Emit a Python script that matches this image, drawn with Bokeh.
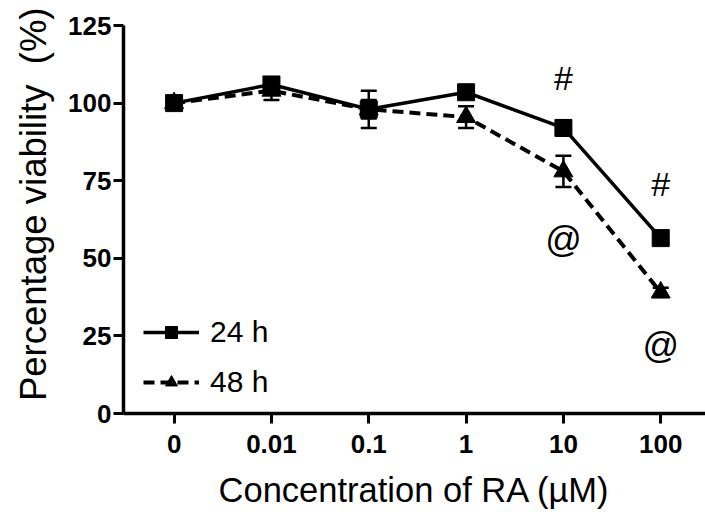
from bokeh.plotting import figure
from bokeh.models import (ColumnDataSource, Whisker, TeeHead, Legend, LegendItem,
                          FixedTicker, Range1d)
from bokeh.core.properties import value
from bokeh.embed import file_html
from bokeh.resources import INLINE

# ---- data ----
concentrations = ["0", "0.01", "0.1", "1", "10", "100"]
viability_24h = [100, 106, 98, 103.5, 92, 56.5]
error_24h = [0.8, 2, 6, 1.5, 2.5, 1.5]
viability_48h = [100, 104, 98, 95.5, 78, 39]
error_48h = [0.8, 3, 3, 3.5, 5, 1.5]

# significance annotations
hash_labels = ["#", "#"]
hash_idx = [4, 5]
hash_y = [108, 74]
at_labels = ["@", "@"]
at_idx = [4, 5]
at_y = [56, 22]

FONT = "Liberation Sans"
xs = list(range(len(concentrations)))

p = figure(width=705, height=521, output_backend="svg", toolbar_location=None,
           x_range=Range1d(-0.52, 5.46), y_range=Range1d(0, 125),
           min_border_left=123, min_border_right=0, min_border_top=25,
           min_border_bottom=108)
p.grid.visible = False
p.outline_line_color = None
p.background_fill_color = "white"
p.border_fill_color = "white"

src24 = ColumnDataSource(dict(x=xs, y=viability_24h,
                              lo=[v - e for v, e in zip(viability_24h, error_24h)],
                              hi=[v + e for v, e in zip(viability_24h, error_24h)]))
src48 = ColumnDataSource(dict(x=xs, y=viability_48h,
                              lo=[v - e for v, e in zip(viability_48h, error_48h)],
                              hi=[v + e for v, e in zip(viability_48h, error_48h)]))

for src in (src48, src24):
    w = Whisker(source=src, base="x", upper="hi", lower="lo",
                line_color="black", line_width=2.5,
                upper_head=TeeHead(size=16, line_width=2.5, line_color="black"),
                lower_head=TeeHead(size=16, line_width=2.5, line_color="black"))
    p.add_layout(w)

l48 = p.line("x", "y", source=src48, line_color="black", line_width=4, line_dash="11 6")
m48 = p.scatter("x", "y", source=src48, marker="triangle", size=19, color="black")
l24 = p.line("x", "y", source=src24, line_color="black", line_width=3.5)
m24 = p.scatter("x", "y", source=src24, marker="square", size=17, color="black")

p.text(x=hash_idx, y=hash_y, text=hash_labels, text_font=value(FONT),
       text_font_size="34px", text_align="center", text_baseline="middle", color="black")
p.text(x=at_idx, y=at_y, text=at_labels, text_font=value(FONT),
       text_font_size="36px", text_align="center", text_baseline="middle", color="black")

legend = Legend(items=[LegendItem(label="24 h", renderers=[l24, m24]),
                       LegendItem(label="48 h", renderers=[l48, m48])],
                location=(20, 14), border_line_color=None, background_fill_alpha=0,
                label_text_font=FONT, label_text_font_size="30px",
                label_text_color="black",
                glyph_width=56, glyph_height=30, label_height=30, spacing=16,
                padding=4, margin=0, label_standoff=11)
p.add_layout(legend)

# axes
for ax in (p.xaxis[0], p.yaxis[0]):
    ax.axis_line_width = 3.5
    ax.major_tick_line_width = 3
    ax.major_tick_out = 10
    ax.major_tick_in = 0
    ax.minor_tick_line_color = None
    ax.major_label_text_font = FONT
    ax.major_label_text_font_style = "bold"
    ax.major_label_text_font_size = "26px"
    ax.major_label_text_color = "black"
    ax.axis_label_text_font = FONT
    ax.axis_label_text_font_style = "normal"
    ax.axis_label_text_color = "black"

p.xaxis.ticker = FixedTicker(ticks=xs)
p.xaxis.major_label_overrides = {i: c for i, c in enumerate(concentrations)}
p.xaxis.axis_label = "Concentration of RA (\u00b5M)"
p.xaxis.axis_label_text_font_size = "34.5px"
p.xaxis.major_label_standoff = 11
p.xaxis.axis_label_standoff = 15

p.yaxis.ticker = FixedTicker(ticks=[0, 25, 50, 75, 100, 125])
p.yaxis.axis_label = "\u00a0\u00a0\u00a0Percentage viability\u00a0\u00a0(%)"
p.yaxis.axis_label_text_font_size = "36.5px"
p.yaxis.major_label_standoff = 2
p.yaxis.axis_label_standoff = 11

open("out.html", "w").write(file_html(p, INLINE))
